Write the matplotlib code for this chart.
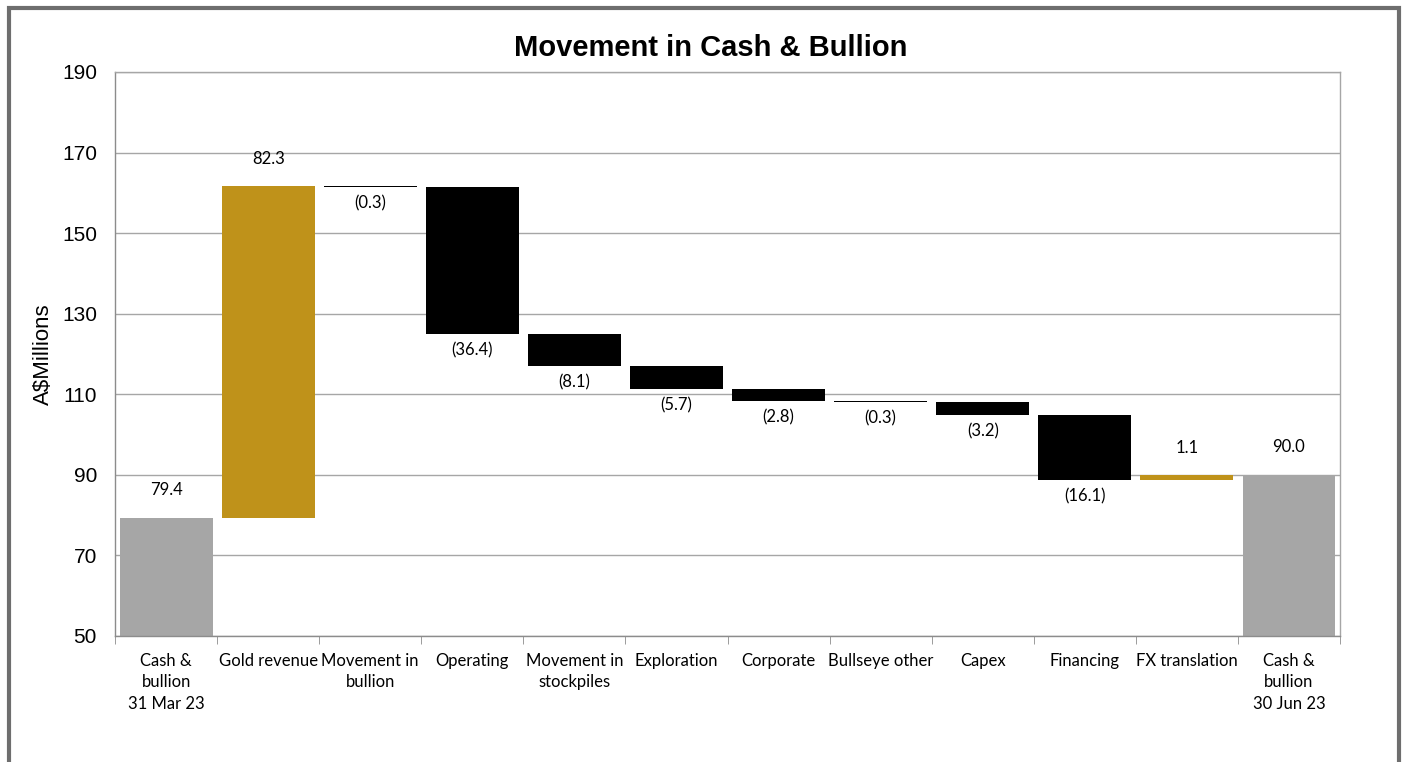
import matplotlib.pyplot as plt
import numpy as np
from matplotlib.patches import Rectangle
from matplotlib.ticker import FixedLocator

CATEGORIES = [
    "Cash &\nbullion\n31 Mar 23",
    "Gold revenue",
    "Movement in\nbullion",
    "Operating",
    "Movement in\nstockpiles",
    "Exploration",
    "Corporate",
    "Bullseye other",
    "Capex",
    "Financing",
    "FX translation",
    "Cash &\nbullion\n30 Jun 23",
]
VALUES = [79.4, 82.3, -0.3, -36.4, -8.1, -5.7, -2.8, -0.3, -3.2, -16.1, 1.1, 90.0]
IS_TOTAL = [True] + [False] * 10 + [True]
Y_TICKS = [50, 70, 90, 110, 130, 150, 170, 190]

GREY = "#A6A6A6"
GOLD = "#BF921A"
BLACK = "#000000"
LABEL_FONT = ["Lato", "DejaVu Sans"]
ARIAL = ["Liberation Sans", "DejaVu Sans"]


def fmt(v):
    return f"({abs(v):.1f})" if v < 0 else f"{v:.1f}"


def main():
    values = np.array(VALUES)
    bottoms, heights, colors = [], [], []
    running = 0.0
    for v, total in zip(values, IS_TOTAL):
        if total:
            bottoms.append(0.0)
            heights.append(v)
            colors.append(GREY)
            running = v
        else:
            start = running
            running = running + v
            bottoms.append(min(start, running))
            heights.append(abs(v))
            colors.append(GOLD if v > 0 else BLACK)

    fig = plt.figure(figsize=(14.08, 7.62), dpi=100, facecolor="white")
    ax = fig.add_axes((0.0817, 0.1654, 0.870, 0.7402))

    x = np.arange(len(CATEGORIES))
    ax.bar(x, heights, bottom=bottoms, width=0.91, color=colors,
           edgecolor="none", zorder=2)

    for xi, v, b, h, total in zip(x, values, bottoms, heights, IS_TOTAL):
        if total or v > 0:
            ax.annotate(fmt(v), (xi, b + h), xytext=(0, 14),
                        textcoords="offset points", ha="center", va="bottom",
                        fontsize=12, family=LABEL_FONT, color="#000000")
        else:
            ax.annotate(fmt(v), (xi, b), xytext=(0, -6),
                        textcoords="offset points", ha="center", va="top",
                        fontsize=12, family=LABEL_FONT, color="#000000")

    ax.set_xlim(-0.5, len(CATEGORIES) - 0.5)
    ax.set_ylim(Y_TICKS[0], Y_TICKS[-1])
    ax.set_yticks(Y_TICKS)
    ax.set_xticks(x, CATEGORIES, family=LABEL_FONT, fontsize=12,
                  linespacing=1.45)
    ax.xaxis.set_minor_locator(FixedLocator(np.arange(-0.5, len(CATEGORIES), 1.0)))
    ax.tick_params(axis="x", which="major", length=0, pad=12)
    ax.tick_params(axis="x", which="minor", length=6, color="#8C8C8C")
    ax.tick_params(axis="y", length=0, labelsize=15, pad=13)
    for lbl in ax.get_yticklabels():
        lbl.set_family(ARIAL)

    ax.yaxis.grid(True, color="#A6A6A6", linewidth=1.0, zorder=0)
    ax.set_axisbelow(True)
    for spine in ax.spines.values():
        spine.set_color("#A6A6A6")
        spine.set_linewidth(1.0)
    ax.spines["left"].set_color("#8C8C8C")
    ax.spines["bottom"].set_color("#8C8C8C")

    ax.set_ylabel("A$Millions", fontsize=16, family=ARIAL, labelpad=6)
    fig.text(0.505, 0.937, "Movement in Cash & Bullion", ha="center", va="center",
             fontsize=21, fontweight="bold", family=ARIAL)

    fig.patches.append(Rectangle((9 / 1408, -0.05), 1390 / 1408, 1.04,
                                 transform=fig.transFigure, fill=False,
                                 edgecolor="#6E6E6E", linewidth=3))

    fig.savefig("out.png", dpi=100, facecolor="white")
    plt.close(fig)


if __name__ == "__main__":
    main()
